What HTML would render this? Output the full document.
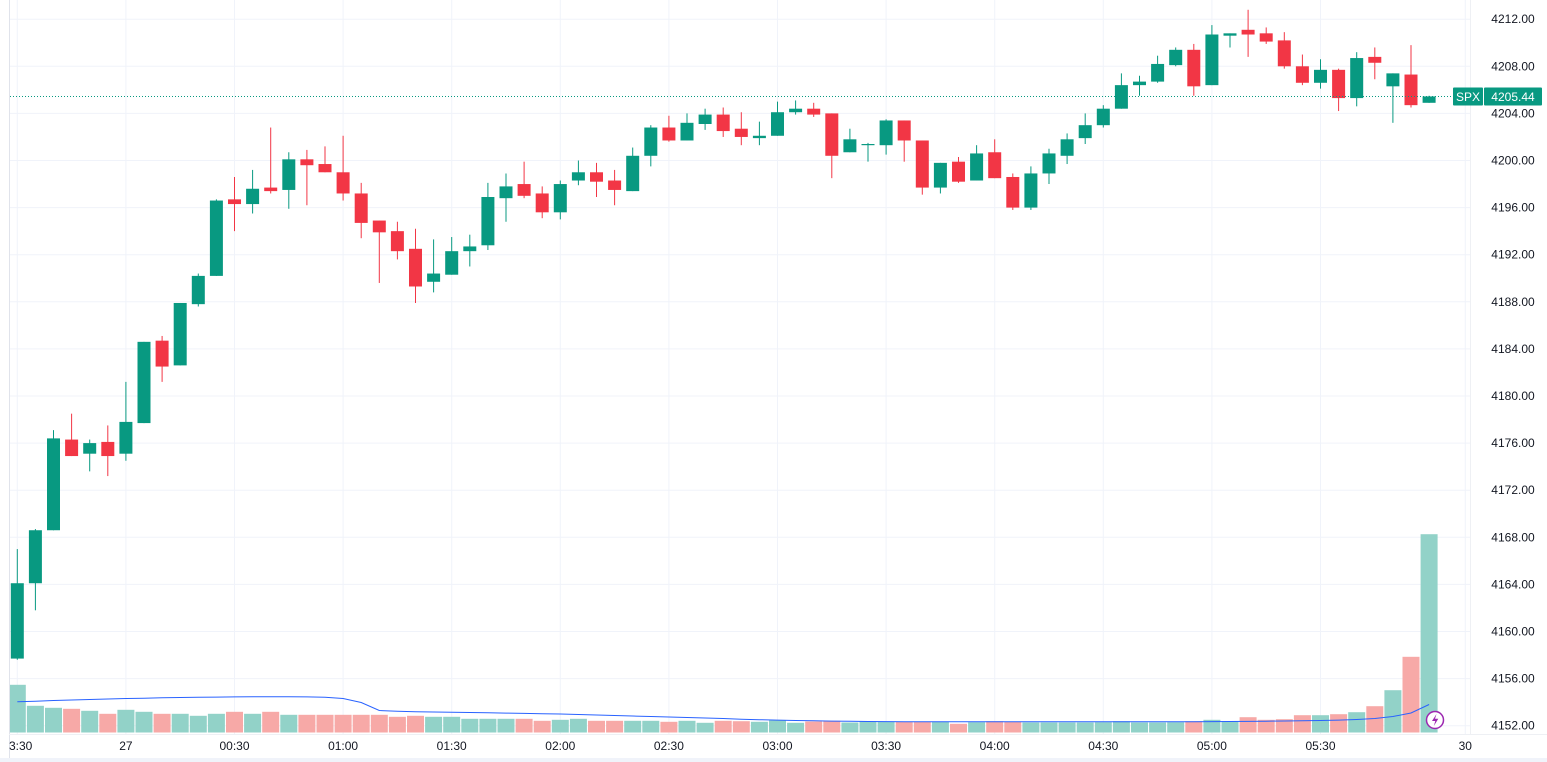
<!DOCTYPE html>
<html><head><meta charset="utf-8"><style>
html,body{margin:0;padding:0;background:#fff;}
svg{display:block;font-family:"Liberation Sans",sans-serif;}
</style></head><body>
<svg id="chart" width="1547" height="762" viewBox="0 0 1547 762" xmlns="http://www.w3.org/2000/svg">
<defs><clipPath id="plotclip"><rect x="10" y="0" width="1460" height="734"/></clipPath></defs>
<rect x="0" y="0" width="1547" height="762" fill="#ffffff"/>
<g id="grid"></g>
<g id="volume" clip-path="url(#plotclip)"></g>
<g id="candles" clip-path="url(#plotclip)"></g>
<g id="axes"></g>
</svg>
<script>
const opens=[4157.7,4164.1,4168.6,4176.3,4175.1,4176.1,4175.1,4177.7,4184.7,4182.6,4187.8,4190.2,4196.7,4196.3,4197.7,4197.5,4200.1,4199.7,4199.0,4197.2,4194.9,4194.0,4192.5,4189.7,4190.3,4192.3,4192.8,4196.8,4198.0,4197.2,4195.6,4198.3,4199.0,4198.3,4197.4,4200.4,4202.8,4201.7,4203.1,4203.9,4202.7,4201.9,4202.1,4204.1,4204.4,4204.0,4200.7,4201.3,4201.3,4203.4,4201.7,4197.7,4199.9,4198.3,4200.7,4198.6,4196.0,4198.9,4200.4,4201.9,4203.0,4204.4,4206.4,4206.7,4208.1,4209.4,4206.4,4210.6,4211.1,4210.8,4210.2,4208.0,4206.6,4207.7,4205.3,4208.8,4206.3,4207.3,4204.9];
const highs=[4167.0,4168.7,4177.1,4178.5,4176.3,4177.5,4181.2,4184.6,4185.1,4187.9,4190.4,4196.7,4198.6,4199.2,4202.8,4200.7,4200.9,4201.2,4202.1,4198.1,4194.9,4194.8,4194.2,4193.3,4193.5,4193.7,4198.1,4198.9,4199.9,4197.8,4198.3,4200.0,4199.8,4199.2,4201.1,4203.0,4203.8,4204.0,4204.4,4204.5,4204.1,4203.3,4205.0,4205.1,4204.9,4204.0,4202.7,4201.5,4203.5,4203.4,4201.7,4199.8,4200.3,4201.3,4201.8,4198.9,4199.5,4201.0,4202.3,4204.0,4204.7,4207.4,4207.2,4208.9,4209.6,4209.9,4211.5,4210.8,4212.8,4211.3,4210.9,4209.0,4208.6,4207.8,4209.2,4209.6,4207.4,4209.8,4205.5];
const lows=[4157.6,4161.8,4168.6,4174.9,4173.6,4173.2,4174.5,4177.7,4181.2,4182.6,4187.6,4190.2,4194.0,4195.5,4197.2,4195.9,4196.2,4199.0,4196.6,4193.4,4189.6,4191.6,4187.9,4188.8,4190.3,4191.0,4192.4,4194.8,4196.8,4195.1,4195.0,4197.9,4196.9,4196.2,4197.4,4199.5,4201.6,4201.7,4202.6,4202.0,4201.3,4201.3,4202.1,4203.9,4203.7,4198.5,4200.7,4199.9,4200.5,4199.9,4197.1,4197.2,4198.1,4198.3,4198.5,4195.8,4195.8,4198.0,4199.7,4201.4,4202.8,4204.4,4205.5,4206.6,4208.0,4205.5,4206.4,4209.6,4208.8,4209.9,4207.8,4206.4,4206.1,4204.2,4204.6,4206.9,4203.2,4204.5,4204.9];
const closes=[4164.1,4168.6,4176.4,4174.9,4176.0,4174.9,4177.8,4184.6,4182.5,4187.9,4190.2,4196.6,4196.3,4197.6,4197.4,4200.1,4199.6,4199.0,4197.2,4194.7,4193.9,4192.3,4189.3,4190.4,4192.3,4192.7,4196.9,4197.8,4197.0,4195.6,4198.0,4199.0,4198.2,4197.5,4200.4,4202.8,4201.7,4203.2,4203.9,4202.5,4202.0,4202.1,4204.1,4204.4,4203.9,4200.4,4201.8,4201.4,4203.4,4201.7,4197.7,4199.8,4198.2,4200.6,4198.5,4196.0,4198.9,4200.6,4201.8,4203.0,4204.4,4206.4,4206.7,4208.2,4209.4,4206.3,4210.7,4210.8,4210.7,4210.1,4208.0,4206.6,4207.7,4205.3,4208.7,4208.3,4207.4,4204.7,4205.44];
const volumes=[47.7,26.7,24.7,23.7,21.7,18.7,22.7,20.7,18.7,18.7,16.7,18.7,20.7,18.7,20.7,17.7,17.7,17.7,17.7,17.7,17.7,15.7,16.7,15.7,15.7,13.7,13.7,13.7,13.7,11.7,12.7,13.7,11.7,11.7,11.7,11.7,10.7,11.7,9.7,11.7,11.3,10.7,12,9.7,11,11.7,10,11,11,11,11,10.7,8.7,10.3,11.3,10.7,10,10,10,10,10.3,11.3,10,10,10.3,11.3,12.7,11.3,15.3,12.7,13.3,17.3,17.3,18.3,20.3,26.3,42.3,75.7,198.3];
const volumeMA=[30.7,31.3,32,32.5,33,33.5,34,34.3,34.7,35,35.2,35.4,35.6,35.7,35.7,35.7,35.6,35.3,34,30,22,21.2,20.8,20.5,20.2,20,19.7,19.4,19.1,18.8,18.5,18,17.5,17,16.5,16,15.5,15,14.5,14,13.2,12.8,12.4,12,11.7,11.4,11.2,11,10.9,10.8,10.8,10.7,10.7,10.7,10.7,10.7,10.7,10.7,10.7,10.7,10.7,10.7,10.7,10.7,10.7,10.8,10.9,11,11.1,11.3,11.5,11.8,12,12.4,13,14,16,19.5,28];
const priceTicks=[4212,4208,4204,4200,4196,4192,4188,4184,4180,4176,4172,4168,4164,4160,4156,4152];
const timeLabels=["23:30","27","00:30","01:00","01:30","02:00","02:30","03:00","03:30","04:00","04:30","05:00","05:30","30"];
const timeLabelIdx=[0,6,12,18,24,30,36,42,48,54,60,66,72,80];
const lastPrice=4205.44;

const NS="http://www.w3.org/2000/svg";
function xAt(i){return 17.3+18.1*i;}
function yAt(p){return 396-(p-4180)*11.775;}
const VOL_BASE=732.5;
function vY(v){return VOL_BASE-v*1.0;}
function mk(tag,attrs,parent){const e=document.createElementNS(NS,tag);for(const k in attrs)e.setAttribute(k,attrs[k]);parent.appendChild(e);return e;}
const grid=document.getElementById('grid'),vol=document.getElementById('volume'),cg=document.getElementById('candles'),ax=document.getElementById('axes');

priceTicks.forEach(p=>{
  const l=mk('line',{x1:10,x2:1470,y1:yAt(p),y2:yAt(p),stroke:'#f0f3fa','stroke-width':1},grid);
  
  
  const t=mk('text',{x:1513,y:yAt(p)+4,'font-size':12,fill:'#131722','text-anchor':'middle'},ax);
  t.textContent=p.toFixed(2);
  
  
});
const lc=mk('rect',{x:0,y:0,width:9,height:762,fill:'#ffffff'},ax);


mk('line',{x1:9.5,x2:9.5,y1:0,y2:758,stroke:'#e0e3eb','stroke-width':1},ax);
mk('line',{x1:1470.5,x2:1470.5,y1:0,y2:734,stroke:'#eef0f4','stroke-width':1},ax);
mk('line',{x1:9,x2:1547,y1:734.5,y2:734.5,stroke:'#eef0f4','stroke-width':1},ax);
const bs=mk('rect',{x:0,y:758,width:1547,height:4,fill:'#f0f3fa'},ax);


timeLabels.forEach((s,k)=>{
  const x=xAt(timeLabelIdx[k]);
  if(x<1470){
    const l=mk('line',{x1:x,x2:x,y1:0,y2:734,stroke:'#f0f3fa','stroke-width':1},grid);
    
    
  }
  const t=mk('text',{x:x,y:750,'font-size':12,fill:'#131722','text-anchor':'middle'},ax);
  t.textContent=s;
  
  
});
const lc2=mk('rect',{x:0,y:736,width:9,height:22,fill:'#ffffff'},ax);



volumes.forEach((v,i)=>{
  const up=closes[i]>=opens[i];
  const r=mk('rect',{x:xAt(i)-8.5,y:vY(v),width:17,height:VOL_BASE-vY(v),fill:up?'#92d2c8':'#f7a9a7'},vol);
  
  
});
const pts=volumeMA.map((v,i)=>xAt(i)+','+vY(v)).join(' ');
const ma=mk('polyline',{points:pts,fill:'none',stroke:'#2962ff','stroke-width':1},vol);



opens.forEach((o,i)=>{
  const c=closes[i],up=c>=o,col=up?'#089981':'#f23645',x=xAt(i);
  const w=mk('line',{x1:x,x2:x,y1:yAt(highs[i]),y2:yAt(lows[i]),stroke:col,'stroke-width':1},cg);
  
  
  const top=yAt(Math.max(o,c)),bot=yAt(Math.min(o,c));
  const b=mk('rect',{x:x-6.5,y:top,width:13,height:Math.max(1,bot-top),fill:col},cg);
  
  
});

const ly=yAt(lastPrice);
const dl=mk('line',{x1:10,x2:1453,y1:ly,y2:ly,stroke:'#089981','stroke-width':1,'stroke-dasharray':'1 2'},ax);


const sb=mk('rect',{x:1453,y:ly-9,width:30,height:18,fill:'#089981',rx:1},ax);


const st=mk('text',{x:1468,y:ly+4.5,'font-size':12,fill:'#fff','text-anchor':'middle'},ax);
st.textContent='SPX';


const pb=mk('rect',{x:1484,y:ly-9,width:58,height:18,fill:'#089981',rx:1},ax);


const pt=mk('text',{x:1513,y:ly+4.5,'font-size':12,fill:'#fff','text-anchor':'middle'},ax);
pt.textContent=lastPrice.toFixed(2);



const ic=mk('g',{},ax);


mk('circle',{cx:1435,cy:720,r:8.5,fill:'#fff',stroke:'#9c27b0','stroke-width':1.5},ic);
mk('path',{d:'M1436.5 714 L1432 721 L1435.3 721 L1433.8 726 L1438.3 718.8 L1435 718.8 Z',fill:'#9c27b0'},ic);
</script>
</body></html>
